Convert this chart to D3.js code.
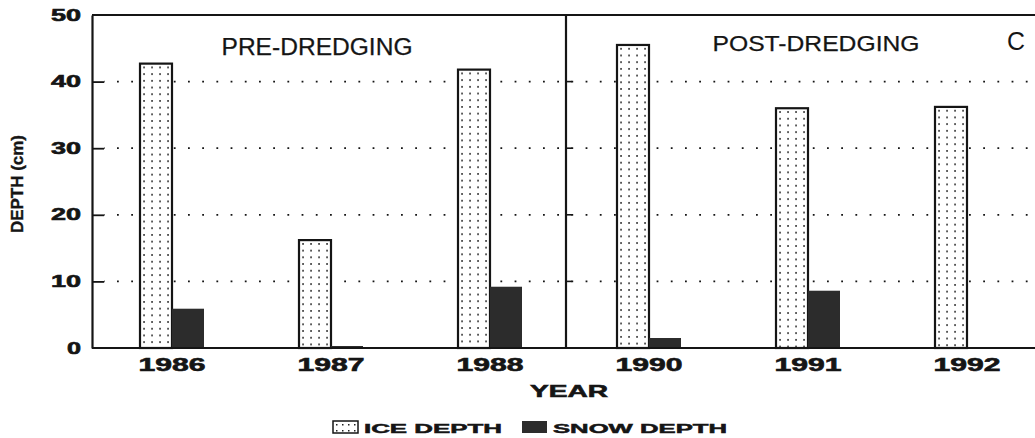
<!DOCTYPE html>
<html>
<head>
<meta charset="utf-8">
<script src="https://cdn.jsdelivr.net/npm/d3@7"></script>
<style>
  html, body { margin: 0; padding: 0; background: #fff; }
  svg { display: block; }
</style>
</head>
<body>
<svg id="chart" width="1035" height="438"></svg>
<script>
// Ice and snow depth by winter, before and after dredging
const years = ["1986", "1987", "1988", "1990", "1991", "1992"];
const iceDepth = [42.7, 16.2, 41.8, 45.5, 36.0, 36.2];
const snowDepth = [5.9, 0.3, 9.2, 1.5, 8.6, 0];
const yTicks = [0, 10, 20, 30, 40, 50];
const gridValues = [10, 20, 30, 40];
const periods = ["PRE-DREDGING", "POST-DREDGING"];
const seriesNames = ["ICE DEPTH", "SNOW DEPTH"];

const plotLeft = 92, plotTop = 15, plotBottom = 348, plotRight = 1035;
const barW = 32;
const ink = "#151515";
const snowFill = "#2c2c2c";
const plain = "'Liberation Sans', Arial, sans-serif";

const svg = d3.select("#chart");
const defs = svg.append("defs");

const x = d3.scaleBand().domain(years).range([92.5, 1046.5]).padding(0);
const y = d3.scaleLinear().domain([0, 50]).range([plotBottom, plotTop]);

// heavy, extended lettering used for numbers and axis titles
const heavy = sel => sel
  .attr("font-family", plain).attr("font-weight", "bold")
  .attr("fill", ink).attr("stroke", ink).attr("stroke-width", 0.6)
  .attr("lengthAdjust", "spacingAndGlyphs");

// dotted horizontal grid lines with a short solid stub at the axis
const grid = svg.append("g");
gridValues.forEach(v => {
  grid.append("line")
    .attr("x1", plotLeft + 12).attr("x2", plotRight)
    .attr("y1", y(v)).attr("y2", y(v))
    .attr("stroke", ink).attr("stroke-width", 1.8)
    .attr("stroke-dasharray", "1.8 12.4").attr("stroke-dashoffset", -13);
});

// bars
const cx = d => x(d) + x.bandwidth() / 2;
const bars = svg.append("g");
years.forEach((yr, i) => {
  const bx = cx(yr) - barW;
  const by = y(iceDepth[i]);
  const pid = "dots" + i;
  const pat = defs.append("pattern")
    .attr("id", pid).attr("patternUnits", "userSpaceOnUse")
    .attr("x", bx).attr("y", by).attr("width", 8).attr("height", 6.7);
  pat.append("rect").attr("width", 8).attr("height", 6.7).attr("fill", "#fff");
  pat.append("rect").attr("x", 3.2).attr("y", 3).attr("width", 1.7).attr("height", 1.6).attr("fill", "#222");
  bars.append("rect")
    .attr("x", bx).attr("y", by)
    .attr("width", barW).attr("height", y(0) - by)
    .attr("fill", `url(#${pid})`)
    .attr("stroke", ink).attr("stroke-width", 2.2);
  if (snowDepth[i] > 0) {
    bars.append("rect")
      .attr("x", cx(yr)).attr("y", y(snowDepth[i]))
      .attr("width", barW).attr("height", y(0) - y(snowDepth[i]))
      .attr("fill", snowFill);
  }
});

// y axis
const yAxis = svg.append("g")
  .attr("transform", `translate(${plotLeft},0)`)
  .call(d3.axisLeft(y).tickValues(yTicks).tickSize(-12).tickSizeOuter(0).tickPadding(11));
yAxis.select(".domain").attr("stroke", ink).attr("stroke-width", 2.2);
yAxis.selectAll(".tick line").attr("stroke", ink).attr("stroke-width", 1.8)
  .filter(d => d === 0 || d === 50).remove();
yAxis.selectAll(".tick text")
  .attr("font-size", 16)
  .attr("textLength", d => String(d).length * 16 - 2)
  .call(heavy);

// x axis
const xAxis = svg.append("g")
  .attr("transform", `translate(0,${plotBottom})`)
  .call(d3.axisBottom(x).tickSize(0).tickSizeOuter(0).tickPadding(10));
xAxis.select(".domain").remove();
xAxis.selectAll(".tick text")
  .attr("font-size", 18)
  .attr("textLength", 67)
  .call(heavy);

// frame: baseline, top border and period divider
const frame = svg.append("g").attr("stroke", ink).attr("stroke-width", 2.2);
frame.append("line").attr("x1", plotLeft).attr("x2", plotRight).attr("y1", y(0)).attr("y2", y(0));
frame.append("line").attr("x1", plotLeft).attr("x2", plotRight).attr("y1", y(50)).attr("y2", y(50));
const divX = x("1990") - 3.5;
frame.append("line").attr("x1", divX).attr("x2", divX).attr("y1", y(50)).attr("y2", y(0));
gridValues.forEach(v => {
  frame.append("line").attr("x1", divX).attr("x2", divX + 6)
    .attr("y1", y(v)).attr("y2", y(v)).attr("stroke-width", 1.6);
});

// period titles and panel letter
svg.append("text").text(periods[0])
  .attr("x", 317).attr("y", 55).attr("text-anchor", "middle")
  .attr("font-family", plain).attr("font-size", 23).attr("fill", ink)
  .attr("stroke", ink).attr("stroke-width", 0.25)
  .attr("textLength", 191).attr("lengthAdjust", "spacingAndGlyphs");
svg.append("text").text(periods[1])
  .attr("x", 816).attr("y", 51).attr("text-anchor", "middle")
  .attr("font-family", plain).attr("font-size", 22).attr("fill", ink)
  .attr("stroke", ink).attr("stroke-width", 0.25)
  .attr("textLength", 207).attr("lengthAdjust", "spacingAndGlyphs");
svg.append("text").text("C")
  .attr("x", 1016).attr("y", 50).attr("text-anchor", "middle")
  .attr("font-family", plain).attr("font-size", 25).attr("fill", ink)
  .attr("textLength", 18).attr("lengthAdjust", "spacingAndGlyphs");

// axis titles
svg.append("text").text("YEAR")
  .attr("x", 569).attr("y", 397).attr("text-anchor", "middle")
  .attr("font-size", 17)
  .attr("textLength", 78)
  .call(heavy);
svg.append("text").text("DEPTH (cm)")
  .attr("transform", "translate(23,184) rotate(-90)").attr("text-anchor", "middle")
  .attr("font-size", 17)
  .attr("textLength", 98)
  .call(heavy).attr("stroke-width", 0.4);

// legend
const legend = svg.append("g");
const legItems = [
  { name: seriesNames[0], box: 333, text: 364, len: 138, ice: true },
  { name: seriesNames[1], box: 522, text: 553, len: 174, ice: false }
];
defs.append("pattern").attr("id", "legdots").attr("patternUnits", "userSpaceOnUse")
  .attr("x", 333).attr("y", 421).attr("width", 6).attr("height", 6)
  .append("rect").attr("x", 3).attr("y", 3).attr("width", 1.5).attr("height", 1.5).attr("fill", "#222");
legItems.forEach(it => {
  legend.append("rect")
    .attr("x", it.box).attr("y", 421).attr("width", 25).attr("height", 12)
    .attr("fill", it.ice ? "url(#legdots)" : snowFill)
    .attr("stroke", it.ice ? ink : "none").attr("stroke-width", 1.5);
  legend.append("text").text(it.name)
    .attr("x", it.text).attr("y", 433)
    .attr("font-size", 13)
    .attr("textLength", it.len)
    .call(heavy).attr("stroke-width", 0.5);
});
</script>
</body>
</html>
